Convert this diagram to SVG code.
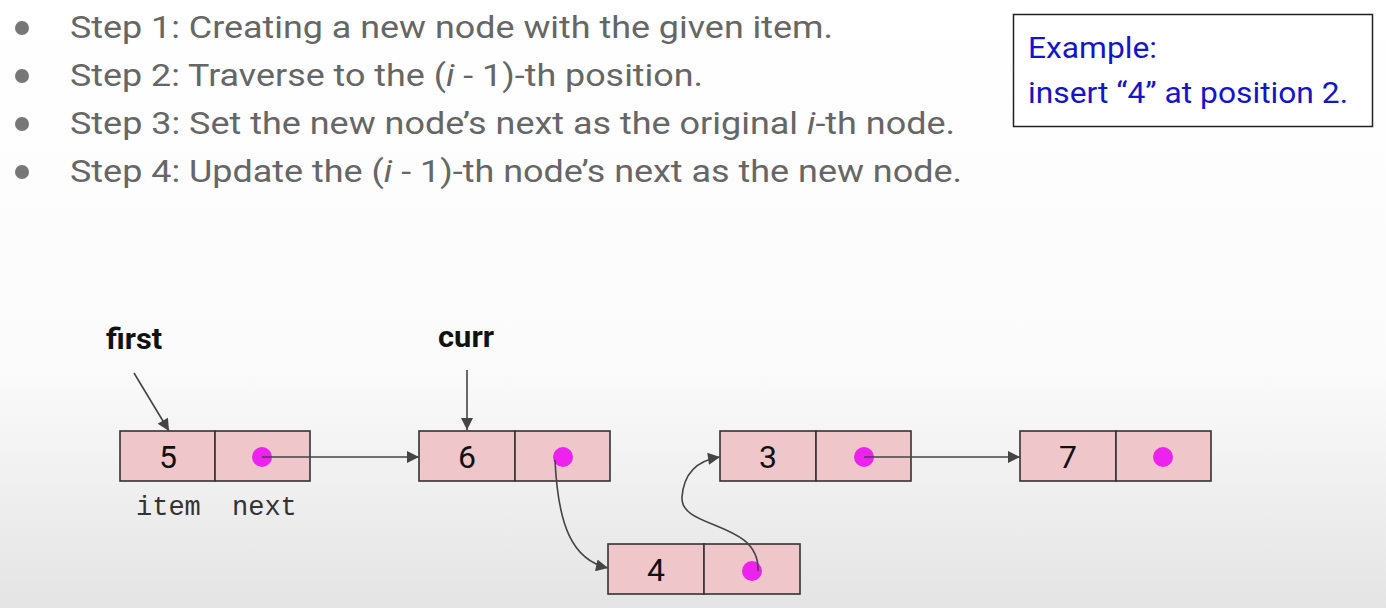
<svg xmlns="http://www.w3.org/2000/svg" width="1386" height="608" viewBox="0 0 1386 608">
<defs>
<linearGradient id="bg" x1="0" y1="0" x2="0" y2="1">
<stop offset="0" stop-color="#ffffff"/>
<stop offset="0.6" stop-color="#fbfbfb"/>
<stop offset="1" stop-color="#e4e4e4"/>
</linearGradient>
<marker id="ah" viewBox="0 0 10 10" refX="10" refY="5" markerWidth="16" markerHeight="12" markerUnits="userSpaceOnUse" orient="auto">
<path d="M0,0 L10,5 L0,10 z" fill="#444"/>
</marker>
<style>
.step{font-family:Roboto,"Liberation Sans",sans-serif;font-size:32px;fill:#666}
.bul{fill:#777}
.ex{font-family:Roboto,"Liberation Sans",sans-serif;font-size:29px;fill:#1515c8}
.lbl{font-family:Roboto,"Liberation Sans",sans-serif;font-size:29px;font-weight:bold;fill:#111}
.cell{fill:#efc6c9;stroke:#333;stroke-width:1.6}
.num{font-family:Roboto,"Liberation Sans",sans-serif;font-size:32px;fill:#111;text-anchor:middle}
.dot{fill:#ee22ee}
.mono{font-family:"Liberation Mono",monospace;font-size:27px;fill:#333}
.conn{fill:none;stroke:#444;stroke-width:1.6;marker-end:url(#ah)}
</style>
</defs>
<rect x="0" y="0" width="1386" height="608" fill="url(#bg)"/>
<g id="steps">
<circle class="bul" cx="22" cy="28" r="7"/>
<circle class="bul" cx="22" cy="76" r="7"/>
<circle class="bul" cx="22" cy="124" r="7"/>
<circle class="bul" cx="22" cy="172" r="7"/>
<text class="step" x="70" y="38" textLength="763" lengthAdjust="spacingAndGlyphs">Step 1: Creating a new node with the given item.</text>
<text class="step" x="70" y="86" textLength="633" lengthAdjust="spacingAndGlyphs">Step 2: Traverse to the (<tspan font-style="italic">i</tspan> - 1)-th position.</text>
<text class="step" x="70" y="134" textLength="885" lengthAdjust="spacingAndGlyphs">Step 3: Set the new node’s next as the original <tspan font-style="italic">i</tspan>-th node.</text>
<text class="step" x="70" y="182" textLength="892" lengthAdjust="spacingAndGlyphs">Step 4: Update the (<tspan font-style="italic">i</tspan> - 1)-th node’s next as the new node.</text>
</g>
<g id="example">
<rect x="1013.5" y="14.5" width="359" height="112" fill="#fff" stroke="#222" stroke-width="1.5"/>
<text class="ex" x="1028" y="58" textLength="129" lengthAdjust="spacingAndGlyphs">Example:</text>
<text class="ex" x="1028" y="103" textLength="320" lengthAdjust="spacingAndGlyphs">insert “4” at position 2.</text>
</g>
<g id="label-first"><text class="lbl" x="106" y="349" textLength="56" lengthAdjust="spacingAndGlyphs">first</text></g>
<g id="label-curr"><text class="lbl" x="438" y="347" textLength="56" lengthAdjust="spacingAndGlyphs">curr</text></g>
<g id="node5">
<rect class="cell" x="120" y="431" width="95" height="50"/>
<rect class="cell" x="215" y="431" width="95" height="50"/>
<text class="num" x="168" y="468">5</text>
<circle class="dot" cx="262" cy="457" r="10"/>
<text class="mono" x="136" y="515">item</text>
<text class="mono" x="232" y="515">next</text>
</g>
<g id="node6">
<rect class="cell" x="419" y="431" width="96" height="50"/>
<rect class="cell" x="515" y="431" width="95" height="50"/>
<text class="num" x="467" y="468">6</text>
<circle class="dot" cx="563" cy="457" r="10"/>
</g>
<g id="node3">
<rect class="cell" x="720" y="431" width="96" height="50"/>
<rect class="cell" x="816" y="431" width="95" height="50"/>
<text class="num" x="768" y="468">3</text>
<circle class="dot" cx="864" cy="457" r="10"/>
</g>
<g id="node7">
<rect class="cell" x="1020" y="431" width="96" height="50"/>
<rect class="cell" x="1116" y="431" width="95" height="50"/>
<text class="num" x="1068" y="468">7</text>
<circle class="dot" cx="1163" cy="457" r="10"/>
</g>
<g id="node4">
<rect class="cell" x="608" y="544" width="96" height="50"/>
<rect class="cell" x="704" y="544" width="96" height="50"/>
<text class="num" x="656" y="581">4</text>
<circle class="dot" cx="752" cy="571" r="10"/>
</g>
<g id="connectors">
<path class="conn" d="M134,373 L169,431"/>
<path class="conn" d="M467,370 L467,430"/>
<path class="conn" d="M262,457 L419,457"/>
<path class="conn" d="M864,457 L1020,457"/>
<path class="conn" d="M555,460 C558,525 572,560 608,568"/>
<path class="conn" d="M758,571 C760,520 680,530 682,497 C684,470 700,460 720,457"/>
</g>
</svg>
